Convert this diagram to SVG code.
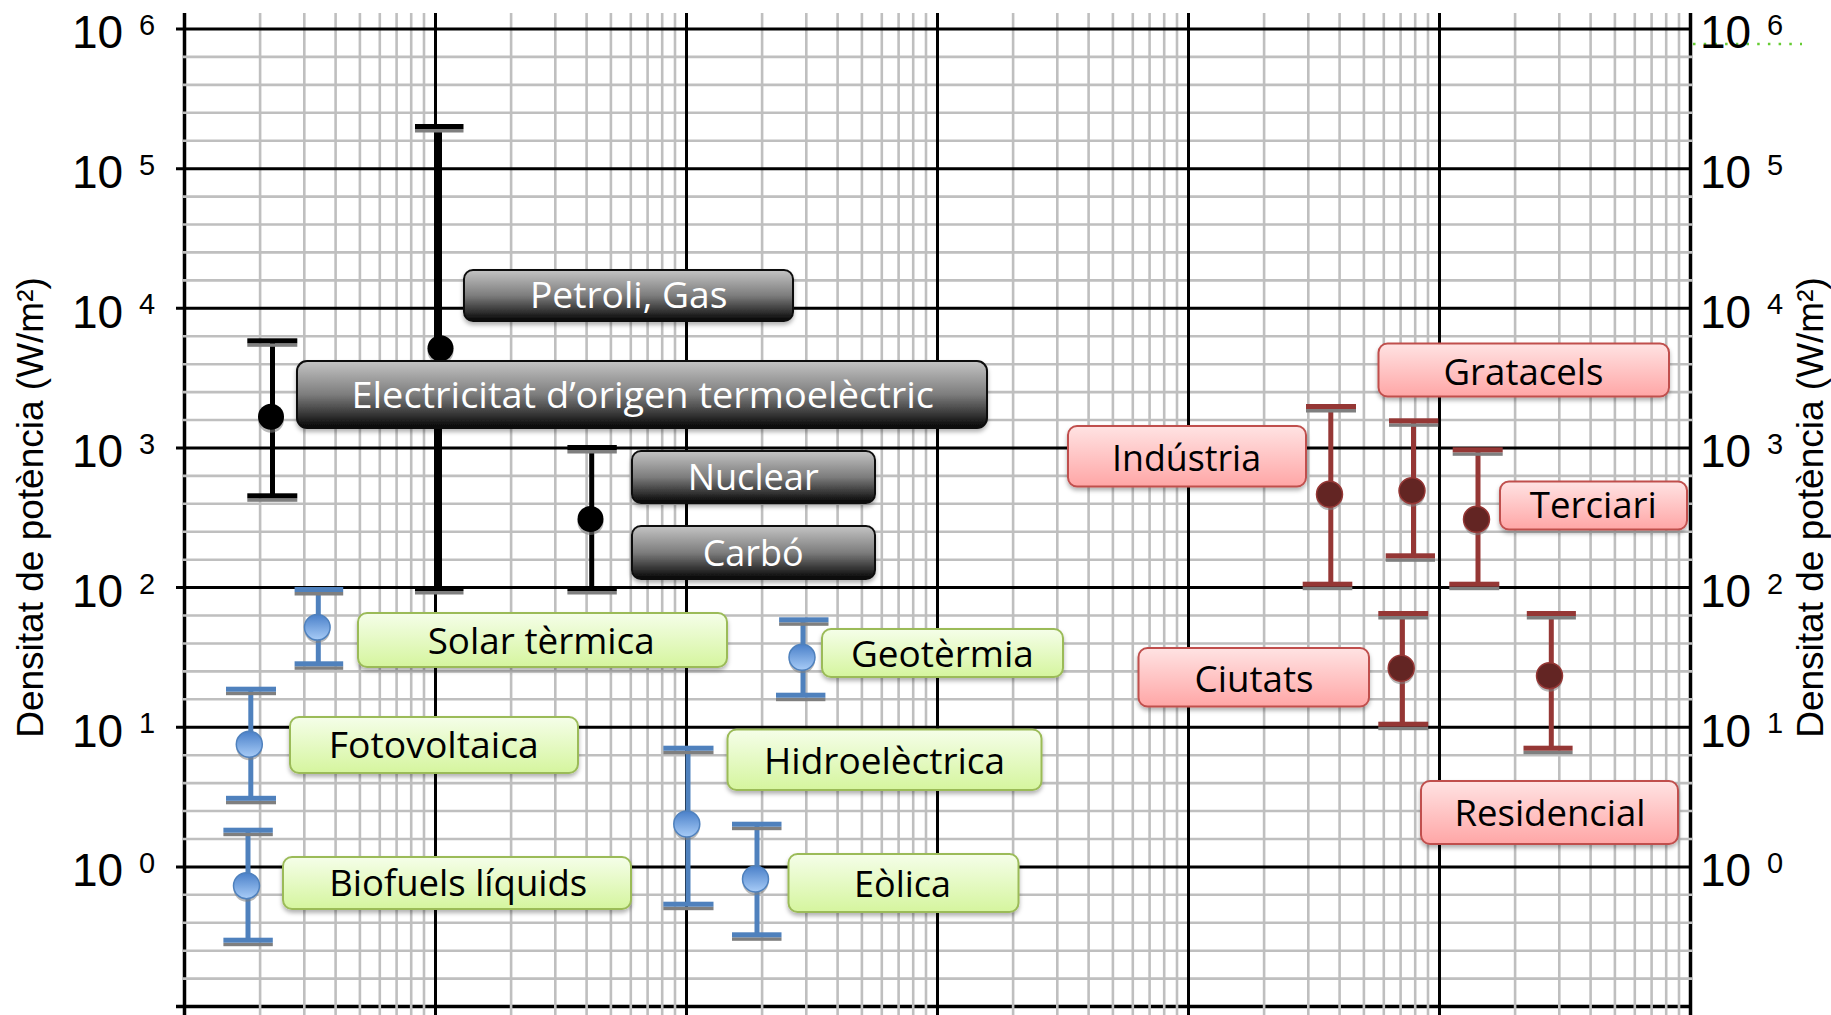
<svg xmlns="http://www.w3.org/2000/svg" width="1831" height="1015" viewBox="0 0 1831 1015">
<style>
.gmin{stroke:#bfbfbf;stroke-width:2.6;fill:none}
.gmaj{stroke:#000;stroke-width:3;fill:none}
.gax{stroke:#000;stroke-width:3.5;fill:none}
.ax{font-family:"Liberation Sans",Arial,sans-serif;fill:#000}
.t10{font-size:46px}
.texp{font-size:29px}
.ttl{font-size:37px;text-anchor:middle}
.lbl{font-family:"Open Sans","Liberation Sans",sans-serif;font-size:36px;text-anchor:middle}
.lk{fill:#fff}
.lg,.lr{fill:#000}
.boxk{fill:url(#gk);stroke:#111;stroke-width:2;filter:url(#sh)}
.boxg{fill:url(#gg);stroke:#9bbb59;stroke-width:2;filter:url(#sh)}
.boxr{fill:url(#gr);stroke:#c0504d;stroke-width:2;filter:url(#sh)}
.csh{fill:#7f7f7f}
.dsh{fill:#7f7f7f;opacity:.55}
.kf{fill:#000}.kl{stroke:#000;stroke-width:5}
.bf{fill:#4f81bd}.bl{stroke:#4f81bd;stroke-width:5}
.rf{fill:#953735}.rl{stroke:#953735;stroke-width:5}
.kd{fill:#000}
.bd{fill:url(#gb);stroke:#4f81bd;stroke-width:1.5}
.rd{fill:#632523;stroke:#953735;stroke-width:1.5}
</style>
<defs>
<linearGradient id="gk" x1="0" y1="0" x2="0" y2="1"><stop offset="0" stop-color="#c4c4c4"/><stop offset="0.5" stop-color="#7d7d7d"/><stop offset="1" stop-color="#050505"/></linearGradient>
<linearGradient id="gg" x1="0" y1="0" x2="0" y2="1"><stop offset="0" stop-color="#f5fee9"/><stop offset="1" stop-color="#d5f59e"/></linearGradient>
<linearGradient id="gr" x1="0" y1="0" x2="0" y2="1"><stop offset="0" stop-color="#ffe3e3"/><stop offset="1" stop-color="#ffa6a6"/></linearGradient>
<linearGradient id="gb" x1="0" y1="0" x2="0" y2="1"><stop offset="0" stop-color="#4a80c9"/><stop offset="1" stop-color="#a8ccf7"/></linearGradient>
<filter id="sh" x="-5%" y="-10%" width="110%" height="135%"><feDropShadow dx="0" dy="3" stdDeviation="2" flood-color="#000" flood-opacity="0.3"/></filter>
</defs>
<rect width="1831" height="1015" fill="#fff"/>
<g id="grid">
<path class="gax" d="M176 1006.5H1690.5M184.5 13V1015M1690.5 13V1015"/>
<path class="gmin" d="M183 56.9H1692M183 84.9H1692M183 112.8H1692M183 140.7H1692M183 196.6H1692M183 224.5H1692M183 252.4H1692M183 280.4H1692M183 336.2H1692M183 364.2H1692M183 392.1H1692M183 420H1692M183 475.9H1692M183 503.8H1692M183 531.7H1692M183 559.7H1692M183 615.5H1692M183 643.5H1692M183 671.4H1692M183 699.3H1692M183 755.2H1692M183 783.1H1692M183 811H1692M183 839H1692M183 894.8H1692M183 922.8H1692M183 950.7H1692M183 978.6H1692"/>
<path class="gmin" d="M260.1 13V1015M304.3 13V1015M335.6 13V1015M359.9 13V1015M379.8 13V1015M396.6 13V1015M411.2 13V1015M424 13V1015M511.1 13V1015M555.3 13V1015M586.6 13V1015M610.9 13V1015M630.8 13V1015M647.6 13V1015M662.2 13V1015M675 13V1015M762.1 13V1015M806.3 13V1015M837.6 13V1015M861.9 13V1015M881.8 13V1015M898.6 13V1015M913.2 13V1015M926 13V1015M1013.1 13V1015M1057.3 13V1015M1088.6 13V1015M1112.9 13V1015M1132.8 13V1015M1149.6 13V1015M1164.2 13V1015M1177 13V1015M1264.1 13V1015M1308.3 13V1015M1339.6 13V1015M1363.9 13V1015M1383.8 13V1015M1400.6 13V1015M1415.2 13V1015M1428 13V1015M1515.1 13V1015M1559.3 13V1015M1590.6 13V1015M1614.9 13V1015M1634.8 13V1015M1651.6 13V1015M1666.2 13V1015M1679 13V1015"/>
<path class="gmaj" d="M176 29H1690.5M176 168.65H1690.5M176 308.3H1690.5M176 447.95H1690.5M176 587.6H1690.5M176 727.25H1690.5M176 866.9H1690.5M435.5 13V1015M686.5 13V1015M937.5 13V1015M1188.5 13V1015M1439.5 13V1015"/>
<path d="M1693 44H1802" stroke="#66cc33" stroke-width="2.5" stroke-dasharray="2.5 8.2" fill="none"/>
</g>
<g id="axis-left" class="ax">
<text class="t10" x="72" y="48.3">10</text><text class="texp" x="139" y="35">6</text>
<text class="t10" x="72" y="188">10</text><text class="texp" x="139" y="174.6">5</text>
<text class="t10" x="72" y="327.6">10</text><text class="texp" x="139" y="314.3">4</text>
<text class="t10" x="72" y="467.3">10</text><text class="texp" x="139" y="454">3</text>
<text class="t10" x="72" y="606.9">10</text><text class="texp" x="139" y="593.6">2</text>
<text class="t10" x="72" y="746.6">10</text><text class="texp" x="139" y="733.3">1</text>
<text class="t10" x="72" y="886.2">10</text><text class="texp" x="139" y="872.9">0</text>
<text class="ttl" transform="translate(43.3 507.5) rotate(-90)">Densitat de potència (W/m²)</text>
</g>
<g id="axis-right" class="ax">
<text class="t10" x="1700" y="48.3">10</text><text class="texp" x="1767" y="35">6</text>
<text class="t10" x="1700" y="188">10</text><text class="texp" x="1767" y="174.6">5</text>
<text class="t10" x="1700" y="327.6">10</text><text class="texp" x="1767" y="314.3">4</text>
<text class="t10" x="1700" y="467.3">10</text><text class="texp" x="1767" y="454">3</text>
<text class="t10" x="1700" y="606.9">10</text><text class="texp" x="1767" y="593.6">2</text>
<text class="t10" x="1700" y="746.6">10</text><text class="texp" x="1767" y="733.3">1</text>
<text class="t10" x="1700" y="886.2">10</text><text class="texp" x="1767" y="872.9">0</text>
<text class="ttl" transform="translate(1822.9 507.5) rotate(-90)">Densitat de potència (W/m²)</text>
</g>
<g id="connectors">
<g id="bar-electricitat">
<line class="kl" x1="272.5" y1="340.8" x2="272.5" y2="495.8"/>
<rect class="csh" x="247.3" y="343.3" width="50" height="3.5"/><rect class="kf" x="247.3" y="338.3" width="50" height="5"/>
<rect class="csh" x="247.3" y="498.3" width="50" height="3.5"/><rect class="kf" x="247.3" y="493.3" width="50" height="5"/>
<circle class="dsh" cx="271" cy="419.7" r="13"/><circle class="kd" cx="271" cy="416.7" r="13"/>
</g>
<g id="bar-petroli">
<line class="kl" x1="439.5" y1="126.5" x2="439.5" y2="588.5"/>
<rect class="csh" x="415" y="129" width="48.5" height="3.5"/><rect class="kf" x="415" y="124" width="48.5" height="5"/>
<rect class="csh" x="415" y="591" width="48.5" height="3.5"/><rect class="kf" x="415" y="586" width="48.5" height="5"/>
<circle class="dsh" cx="440.5" cy="351.3" r="13"/><circle class="kd" cx="440.5" cy="348.3" r="13"/>
</g>
<g id="bar-nuclear">
<line class="kl" x1="591.7" y1="447.5" x2="591.7" y2="588.5"/>
<rect class="csh" x="567.4" y="450" width="49.4" height="3.5"/><rect class="kf" x="567.4" y="445" width="49.4" height="5"/>
<rect class="csh" x="567.4" y="591" width="49.4" height="3.5"/><rect class="kf" x="567.4" y="586" width="49.4" height="5"/>
<circle class="dsh" cx="590.5" cy="522" r="13"/><circle class="kd" cx="590.5" cy="519" r="13"/>
</g>
<g id="bar-solar">
<line class="bl" x1="318.3" y1="589.5" x2="318.3" y2="663.8"/>
<rect class="csh" x="294.6" y="592" width="48.6" height="3.5"/><rect class="bf" x="294.6" y="587" width="48.6" height="5"/>
<rect class="csh" x="294.6" y="666.3" width="48.6" height="3.5"/><rect class="bf" x="294.6" y="661.3" width="48.6" height="5"/>
<circle class="dsh" cx="317.3" cy="630.3" r="12.8"/><circle class="bd" cx="317.3" cy="627.3" r="12.8"/>
</g>
<g id="bar-fotovoltaica">
<line class="bl" x1="250.8" y1="689.2" x2="250.8" y2="798.3"/>
<rect class="csh" x="226" y="691.7" width="50" height="3.5"/><rect class="bf" x="226" y="686.7" width="50" height="5"/>
<rect class="csh" x="226" y="800.8" width="50" height="3.5"/><rect class="bf" x="226" y="795.8" width="50" height="5"/>
<circle class="dsh" cx="249.3" cy="747.3" r="13"/><circle class="bd" cx="249.3" cy="744.3" r="13"/>
</g>
<g id="bar-biofuels">
<line class="bl" x1="248" y1="830.2" x2="248" y2="940.2"/>
<rect class="csh" x="223.4" y="832.7" width="49.4" height="3.5"/><rect class="bf" x="223.4" y="827.7" width="49.4" height="5"/>
<rect class="csh" x="223.4" y="942.7" width="49.4" height="3.5"/><rect class="bf" x="223.4" y="937.7" width="49.4" height="5"/>
<circle class="dsh" cx="246.5" cy="888.7" r="13"/><circle class="bd" cx="246.5" cy="885.7" r="13"/>
</g>
<g id="bar-geotermia">
<line class="bl" x1="803" y1="619.8" x2="803" y2="695.2"/>
<rect class="csh" x="779.1" y="622.3" width="49.4" height="3.5"/><rect class="bf" x="779.1" y="617.3" width="49.4" height="5"/>
<rect class="csh" x="776" y="697.7" width="49.4" height="3.5"/><rect class="bf" x="776" y="692.7" width="49.4" height="5"/>
<circle class="dsh" cx="802" cy="660.3" r="13"/><circle class="bd" cx="802" cy="657.3" r="13"/>
</g>
<g id="bar-hidro">
<line class="bl" x1="688" y1="748.2" x2="688" y2="904.2"/>
<rect class="csh" x="663.3" y="750.7" width="50.2" height="3.5"/><rect class="bf" x="663.3" y="745.7" width="50.2" height="5"/>
<rect class="csh" x="663.3" y="906.7" width="50.2" height="3.5"/><rect class="bf" x="663.3" y="901.7" width="50.2" height="5"/>
<circle class="dsh" cx="686.8" cy="827" r="13"/><circle class="bd" cx="686.8" cy="824" r="13"/>
</g>
<g id="bar-eolica">
<line class="bl" x1="757" y1="824.2" x2="757" y2="934.8"/>
<rect class="csh" x="732" y="826.7" width="49.5" height="3.5"/><rect class="bf" x="732" y="821.7" width="49.5" height="5"/>
<rect class="csh" x="732" y="937.3" width="49.5" height="3.5"/><rect class="bf" x="732" y="932.3" width="49.5" height="5"/>
<circle class="dsh" cx="755.5" cy="882" r="13"/><circle class="bd" cx="755.5" cy="879" r="13"/>
</g>
<g id="bar-industria">
<line class="rl" x1="1330.8" y1="406.5" x2="1330.8" y2="584.2"/>
<rect class="csh" x="1306" y="409" width="50" height="3.5"/><rect class="rf" x="1306" y="404" width="50" height="5"/>
<rect class="csh" x="1302.7" y="586.7" width="49.6" height="3.5"/><rect class="rf" x="1302.7" y="581.7" width="49.6" height="5"/>
<circle class="dsh" cx="1329.5" cy="497.3" r="13"/><circle class="rd" cx="1329.5" cy="494.3" r="13"/>
</g>
<g id="bar-gratacels">
<line class="rl" x1="1413.5" y1="420.8" x2="1413.5" y2="555.8"/>
<rect class="csh" x="1389" y="423.3" width="49.3" height="3.5"/><rect class="rf" x="1389" y="418.3" width="49.3" height="5"/>
<rect class="csh" x="1385.7" y="558.3" width="49.3" height="3.5"/><rect class="rf" x="1385.7" y="553.3" width="49.3" height="5"/>
<circle class="dsh" cx="1412" cy="493.7" r="13"/><circle class="rd" cx="1412" cy="490.7" r="13"/>
</g>
<g id="bar-terciari">
<line class="rl" x1="1478" y1="449.8" x2="1478" y2="584.2"/>
<rect class="csh" x="1452.7" y="452.3" width="50" height="3.5"/><rect class="rf" x="1452.7" y="447.3" width="50" height="5"/>
<rect class="csh" x="1449.3" y="586.7" width="50" height="3.5"/><rect class="rf" x="1449.3" y="581.7" width="50" height="5"/>
<circle class="dsh" cx="1476.5" cy="522.3" r="13"/><circle class="rd" cx="1476.5" cy="519.3" r="13"/>
</g>
<g id="bar-ciutats">
<line class="rl" x1="1402.4" y1="613.5" x2="1402.4" y2="724.2"/>
<rect class="csh" x="1378.3" y="616" width="49.9" height="3.5"/><rect class="rf" x="1378.3" y="611" width="49.9" height="5"/>
<rect class="csh" x="1378.3" y="726.7" width="49.9" height="3.5"/><rect class="rf" x="1378.3" y="721.7" width="49.9" height="5"/>
<circle class="dsh" cx="1401.2" cy="671.3" r="13"/><circle class="rd" cx="1401.2" cy="668.3" r="13"/>
</g>
<g id="bar-residencial">
<line class="rl" x1="1551.3" y1="613.5" x2="1551.3" y2="748.2"/>
<rect class="csh" x="1526.8" y="616" width="49.1" height="3.5"/><rect class="rf" x="1526.8" y="611" width="49.1" height="5"/>
<rect class="csh" x="1523.5" y="750.7" width="49.1" height="3.5"/><rect class="rf" x="1523.5" y="745.7" width="49.1" height="5"/>
<circle class="dsh" cx="1549.5" cy="678.7" r="13"/><circle class="rd" cx="1549.5" cy="675.7" r="13"/>
</g>
</g>
<g id="node-petroli"><rect class="boxk" x="464" y="270" width="329" height="51" rx="9"/><text class="lbl lk" x="628.7" y="308.3" textLength="197.5" lengthAdjust="spacingAndGlyphs">Petroli, Gas</text></g>
<g id="node-electricitat"><rect class="boxk" x="297" y="361" width="690" height="67" rx="10"/><text class="lbl lk" x="642.7" y="408.3" textLength="582.5" lengthAdjust="spacingAndGlyphs">Electricitat d’origen termoelèctric</text></g>
<g id="node-nuclear"><rect class="boxk" x="632" y="451" width="243" height="52" rx="9"/><text class="lbl lk" x="753.2" y="490" textLength="131" lengthAdjust="spacingAndGlyphs">Nuclear</text></g>
<g id="node-carbo"><rect class="boxk" x="632" y="526" width="243" height="53" rx="9"/><text class="lbl lk" x="753.2" y="566" textLength="101" lengthAdjust="spacingAndGlyphs">Carbó</text></g>
<g id="node-solar"><rect class="boxg" x="358" y="613" width="369" height="54" rx="9"/><text class="lbl lg" x="541.2" y="654" textLength="227" lengthAdjust="spacingAndGlyphs">Solar tèrmica</text></g>
<g id="node-fotovoltaica"><rect class="boxg" x="290" y="717" width="288" height="56" rx="9"/><text class="lbl lg" x="433.8" y="758.3" textLength="210" lengthAdjust="spacingAndGlyphs">Fotovoltaica</text></g>
<g id="node-biofuels"><rect class="boxg" x="283" y="857" width="348" height="52" rx="9"/><text class="lbl lg" x="458.2" y="896" textLength="258" lengthAdjust="spacingAndGlyphs">Biofuels líquids</text></g>
<g id="node-geotermia"><rect class="boxg" x="822" y="629" width="241" height="48" rx="9"/><text class="lbl lg" x="942.4" y="666.7" textLength="183" lengthAdjust="spacingAndGlyphs">Geotèrmia</text></g>
<g id="node-hidro"><rect class="boxg" x="727.5" y="729.5" width="314" height="60.5" rx="9"/><text class="lbl lg" x="884.6" y="774" textLength="241" lengthAdjust="spacingAndGlyphs">Hidroelèctrica</text></g>
<g id="node-eolica"><rect class="boxg" x="788.5" y="854" width="230" height="58" rx="9"/><text class="lbl lg" x="902.6" y="896.7" textLength="97" lengthAdjust="spacingAndGlyphs">Eòlica</text></g>
<g id="node-gratacels"><rect class="boxr" x="1378.5" y="343.5" width="290.5" height="53" rx="9"/><text class="lbl lr" x="1523.5" y="385" textLength="160" lengthAdjust="spacingAndGlyphs">Gratacels</text></g>
<g id="node-industria"><rect class="boxr" x="1068" y="426" width="238" height="60.5" rx="9"/><text class="lbl lr" x="1186.5" y="470.7" textLength="149" lengthAdjust="spacingAndGlyphs">Indústria</text></g>
<g id="node-terciari"><rect class="boxr" x="1500" y="481.5" width="187" height="48" rx="9"/><text class="lbl lr" x="1593.3" y="518.3" textLength="127" lengthAdjust="spacingAndGlyphs">Terciari</text></g>
<g id="node-ciutats"><rect class="boxr" x="1138.5" y="648" width="230.5" height="58.5" rx="9"/><text class="lbl lr" x="1254" y="691.7" textLength="119" lengthAdjust="spacingAndGlyphs">Ciutats</text></g>
<g id="node-residencial"><rect class="boxr" x="1421" y="781" width="257" height="63" rx="9"/><text class="lbl lr" x="1550" y="826" textLength="191" lengthAdjust="spacingAndGlyphs">Residencial</text></g>
</svg>
